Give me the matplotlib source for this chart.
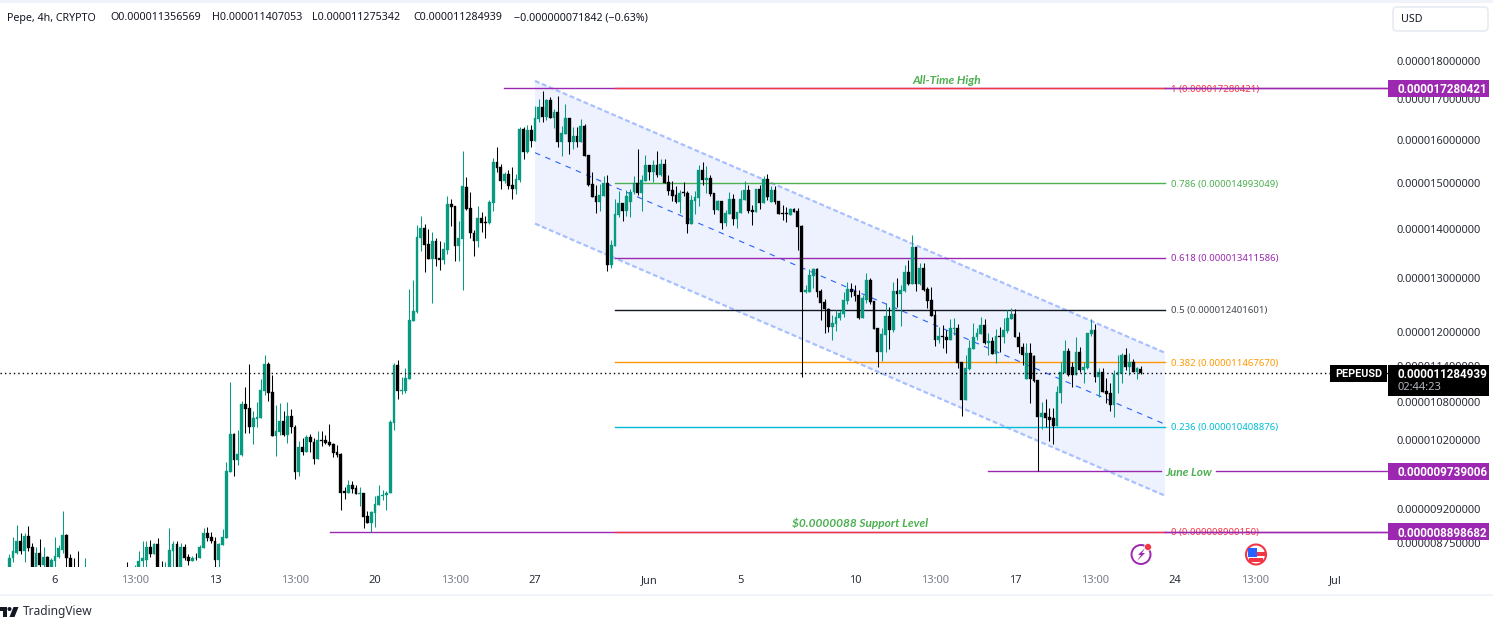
import numpy as np
from matplotlib import pyplot as plt
from matplotlib.patches import Rectangle, Polygon, Circle, FancyBboxPatch

nan = float('nan')

# 4h candles, price in units of 1e-6. nan = bar sits under the bottom of the pane
opens = [8.40,8.55,8.62,8.77,8.64,8.84,8.69,8.38,8.62,8.47,
    8.57,8.40,8.52,8.57,8.66,8.86,8.55,8.38,8.34,nan,
    8.20,nan,nan,nan,nan,nan,nan,nan,nan,nan,
    nan,8.33,nan,8.30,8.38,8.51,8.53,8.69,8.61,8.74,
    8.34,8.30,8.36,8.64,8.73,8.38,8.69,8.57,8.51,8.56,
    8.56,8.68,8.88,8.83,8.77,8.53,8.72,8.82,9.73,10.30,
    9.90,9.98,10.77,10.71,10.40,10.53,10.55,10.98,11.44,10.97,
    10.27,10.33,10.50,10.29,10.58,10.41,9.73,10.10,10.03,10.25,
    10.17,9.92,10.21,10.21,10.17,10.14,10.03,10.00,9.45,9.43,
    9.54,9.50,9.42,9.43,9.11,9.01,9.15,9.26,9.38,9.40,
    9.43,10.47,11.42,10.98,10.98,11.18,12.20,12.36,13.81,14.02,
    13.69,13.39,13.75,13.41,13.37,13.57,14.54,14.49,13.65,13.79,
    14.90,14.44,13.92,13.75,14.23,14.15,14.13,14.56,15.48,15.36,
    15.04,15.20,14.95,14.86,15.06,16.26,15.71,16.23,15.97,16.50,
    16.80,16.55,16.98,16.52,16.67,15.94,16.14,16.52,15.94,16.09,
    15.94,16.33,15.64,14.97,14.71,14.58,14.71,15.00,13.27,13.65,
    14.30,14.56,14.38,14.58,14.80,15.00,14.77,15.04,15.41,15.25,
    15.41,15.18,15.43,15.02,14.84,14.73,14.58,14.80,14.77,14.11,
    14.60,14.66,15.29,15.06,15.11,14.77,14.40,14.60,14.13,14.32,
    14.64,14.21,14.34,14.62,14.84,14.40,14.36,14.86,14.56,15.09,
    14.58,14.84,14.60,14.34,14.34,14.30,14.42,14.38,14.07,12.74,
    12.74,13.05,13.19,12.76,12.55,12.42,12.09,12.14,12.25,12.33,
    12.57,12.80,12.76,12.68,12.25,12.59,12.97,12.57,12.07,11.64,
    11.95,12.29,12.03,12.76,12.70,12.76,13.13,12.89,13.63,12.89,
    13.21,12.80,12.59,12.31,11.86,11.93,11.91,11.86,12.05,12.07,
    11.47,10.84,11.35,11.70,11.90,11.96,12.13,11.80,11.84,11.61,
    11.93,11.90,12.02,12.23,12.33,11.90,11.73,11.18,11.63,11.57,
    11.16,10.57,10.63,10.57,10.55,10.43,10.95,11.29,11.66,11.39,
    11.25,11.64,11.34,11.37,11.96,12.03,11.22,11.30,10.98,10.95,
    10.75,11.25,11.29,11.59,11.39,11.47,11.30,11.357]

highs = [8.60,8.83,8.99,8.88,8.88,8.97,8.75,8.69,8.80,8.70,
    8.58,8.55,8.83,8.72,9.18,8.87,8.60,8.56,8.65,nan,
    8.55,nan,nan,nan,nan,nan,nan,nan,nan,nan,
    nan,8.50,nan,8.46,8.64,8.77,8.78,8.79,8.75,8.82,
    8.51,8.50,8.95,8.78,8.78,8.75,8.74,8.60,8.58,8.62,
    8.72,8.95,8.96,8.89,8.83,8.75,8.94,9.88,11.13,10.32,
    10.36,10.82,11.05,11.44,10.66,10.80,11.18,11.59,11.47,11.25,
    10.75,10.79,10.66,10.80,10.69,10.44,10.19,10.24,10.29,10.30,
    10.24,10.35,10.35,10.29,10.46,10.16,10.13,10.01,9.51,9.61,
    9.60,9.54,9.51,9.43,9.18,9.18,9.39,9.54,9.47,9.45,
    10.52,11.45,11.50,11.22,11.37,12.80,12.97,14.09,14.27,14.11,
    14.00,13.94,13.81,13.75,13.73,14.71,14.64,14.49,14.17,15.73,
    15.13,14.80,13.98,14.49,14.36,14.27,14.62,15.57,15.83,15.43,
    15.25,15.29,15.36,15.20,16.31,16.31,16.35,16.35,16.82,17.00,
    17.21,17.00,17.05,16.75,17.08,16.33,16.87,16.52,16.31,16.31,
    16.50,16.38,15.64,15.25,14.95,14.97,15.15,15.18,13.77,14.64,
    14.82,14.56,14.84,14.86,15.15,15.78,15.18,15.64,15.41,15.52,
    15.73,15.55,15.55,15.18,15.04,14.93,14.84,15.02,14.82,14.73,
    14.82,15.41,15.48,15.38,15.18,14.77,14.62,14.60,14.40,14.80,
    14.75,14.36,14.84,15.04,14.95,14.51,14.86,14.95,15.15,15.20,
    14.93,14.93,14.60,14.51,14.47,14.44,14.44,14.44,14.09,12.87,
    13.19,13.21,13.21,12.80,12.61,12.44,12.31,12.40,12.40,12.74,
    12.93,12.91,12.87,12.78,12.68,13.11,13.01,12.57,12.07,12.07,
    12.53,12.45,12.93,13.01,12.87,13.27,13.37,13.87,13.63,13.31,
    13.31,12.84,12.84,12.40,12.09,12.13,12.03,12.23,12.25,12.14,
    11.47,11.59,11.86,12.16,12.07,12.27,12.23,11.98,11.91,12.05,
    12.09,12.25,12.40,12.44,12.42,12.00,11.80,11.80,11.80,11.59,
    11.16,10.80,10.85,10.71,10.71,11.07,11.47,11.86,11.72,11.47,
    11.90,11.73,11.47,11.98,12.23,12.14,11.37,11.37,11.20,11.12,
    11.34,11.59,11.63,11.72,11.63,11.52,11.39,11.407]

lows = [8.38,8.50,8.61,8.60,8.50,8.64,8.38,8.36,8.40,8.40,
    8.36,8.38,8.44,8.56,8.62,8.40,8.34,8.25,8.20,nan,
    8.15,nan,nan,nan,nan,nan,nan,nan,nan,nan,
    nan,8.28,nan,8.28,8.34,8.43,8.40,8.57,8.60,8.34,
    8.28,8.28,8.34,8.43,8.34,8.34,8.53,8.46,8.51,8.53,
    8.55,8.68,8.77,8.75,8.44,8.44,8.72,8.82,9.73,9.67,
    9.83,9.96,10.32,10.32,10.14,10.40,10.55,10.92,10.82,10.27,
    9.96,10.29,10.27,10.16,10.32,9.63,9.67,9.98,10.03,10.03,
    9.85,9.92,10.11,10.14,10.11,9.95,9.95,9.19,9.35,9.43,
    9.43,9.42,9.24,8.95,9.01,8.90,8.96,9.26,9.33,9.19,
    9.43,10.36,10.85,10.93,10.95,11.18,12.20,12.34,13.55,13.13,
    13.39,12.53,13.25,13.17,13.29,13.49,14.07,13.35,13.35,12.78,
    14.40,13.81,13.45,13.63,13.94,13.81,14.11,14.38,15.25,14.86,
    15.00,14.86,14.64,14.75,15.02,15.55,15.68,15.83,15.97,16.43,
    16.43,16.47,16.52,16.28,15.83,15.62,16.14,15.66,15.78,15.83,
    15.94,15.62,14.93,14.68,14.34,14.38,14.71,13.15,13.21,13.65,
    14.25,14.17,14.27,14.25,14.75,14.73,14.38,15.04,15.06,15.02,
    15.13,15.15,15.00,14.73,14.60,14.56,14.34,14.71,13.92,14.11,
    14.32,14.49,14.95,14.77,14.71,14.32,14.40,14.00,14.07,14.32,
    14.09,14.02,14.34,14.62,14.34,14.09,14.36,14.42,14.56,14.62,
    14.58,14.54,14.32,14.19,14.15,14.30,14.36,13.57,11.22,12.72,
    12.74,12.82,12.64,12.22,11.98,12.00,11.86,12.02,12.22,12.27,
    12.51,12.64,12.57,12.23,12.25,12.53,12.51,12.05,11.39,11.49,
    11.64,11.70,12.00,12.45,12.11,12.74,12.87,12.89,12.76,12.87,
    12.76,12.44,12.29,11.75,11.80,11.71,11.63,11.86,11.95,11.37,
    10.58,10.84,11.34,11.70,11.86,11.96,11.79,11.59,11.61,11.46,
    11.64,11.80,11.98,12.23,11.90,11.63,11.42,11.18,10.79,11.13,
    9.74,10.38,10.40,10.19,10.14,10.43,10.79,11.29,11.23,11.05,
    11.25,11.30,11.11,11.35,11.93,11.13,10.88,10.97,10.79,10.66,
    10.57,10.95,11.12,11.34,11.25,11.30,11.18,11.275]

closes = [8.56,8.64,8.77,8.64,8.84,8.68,8.40,8.62,8.47,8.57,
    8.40,8.53,8.58,8.68,8.86,8.55,8.38,8.30,8.26,nan,
    8.30,nan,nan,nan,nan,nan,nan,nan,nan,nan,
    nan,8.30,nan,8.34,8.52,8.55,8.69,8.61,8.74,8.38,
    8.30,8.35,8.66,8.73,8.38,8.69,8.56,8.51,8.56,8.55,
    8.69,8.88,8.82,8.77,8.53,8.73,8.83,9.74,10.30,9.90,
    10.00,10.77,10.69,10.40,10.55,10.57,11.00,11.44,10.95,10.27,
    10.35,10.50,10.29,10.58,10.41,9.73,10.10,10.03,10.25,10.17,
    9.92,10.21,10.19,10.16,10.13,10.01,9.98,9.43,9.43,9.54,
    9.48,9.42,9.43,9.10,9.01,9.17,9.28,9.39,9.40,9.43,
    10.49,11.42,10.98,11.00,11.20,12.22,12.38,13.83,14.02,13.67,
    13.39,13.75,13.39,13.37,13.59,14.54,14.47,13.65,13.81,14.93,
    14.42,13.92,13.75,14.23,14.13,14.13,14.58,15.48,15.34,15.04,
    15.20,14.93,14.86,15.09,16.26,15.71,16.23,15.97,16.52,16.80,
    16.55,16.98,16.52,16.67,15.94,16.16,16.52,15.94,16.09,15.94,
    16.33,15.62,14.95,14.68,14.58,14.73,15.00,13.27,13.67,14.32,
    14.56,14.38,14.71,14.80,15.00,14.77,15.06,15.41,15.25,15.41,
    15.18,15.43,15.00,14.82,14.71,14.58,14.77,14.77,14.11,14.62,
    14.68,15.29,15.06,15.11,14.75,14.40,14.60,14.13,14.34,14.64,
    14.21,14.36,14.64,14.84,14.38,14.36,14.86,14.56,15.09,14.68,
    14.84,14.58,14.32,14.32,14.32,14.42,14.36,14.04,12.74,12.78,
    13.07,13.19,12.74,12.53,12.42,12.09,12.16,12.27,12.34,12.59,
    12.80,12.74,12.66,12.25,12.63,12.97,12.55,12.05,11.64,11.96,
    12.29,12.03,12.76,12.70,12.78,13.13,12.89,13.63,12.89,13.21,
    12.78,12.57,12.29,11.86,11.93,11.91,11.86,12.07,12.07,11.46,
    10.84,11.37,11.72,11.91,11.98,12.13,11.80,11.84,11.61,11.93,
    11.90,12.03,12.25,12.33,11.90,11.73,11.59,11.63,11.18,11.15,
    10.57,10.63,10.55,10.52,10.43,10.97,11.30,11.66,11.25,11.25,
    11.64,11.34,11.39,11.98,12.03,11.22,11.30,10.97,10.93,10.75,
    11.27,11.30,11.59,11.39,11.47,11.30,11.36,11.285]

# x axis: days after 6 May, first bar two days before that
first_bar_day = -2
date_pos = [0, 3.5, 7, 10.5, 14, 17.5, 21, 26, 30, 35, 38.5, 42, 45.5, 49, 52.5, 56]
date_labels = ['6', '13:00', '13', '13:00', '20', '13:00', '27', 'Jun', '5', '10',
    '13:00', '17', '13:00', '24', '13:00', 'Jul']

price_ticks = [18.0, 17.0, 16.0, 15.0, 14.0, 13.0, 12.0, 11.4, 10.8, 10.2, 9.2, 8.75]

# fibonacci levels
fib_ratio = ['1', '0.786', '0.618', '0.5', '0.382', '0.236', '0']
fib_price = [17.280421, 14.993049, 13.411586, 12.401601, 11.467670, 10.408876, 8.900150]
fib_color = ['#f23645', '#4caf50', '#9c27b0', '#131722', '#ff9800', '#00bcd4', '#f23645']
fib_start, fib_end = 24.5, 48.56

# horizontal levels with their axis tags
ath_price, june_low, support_price = 17.280421, 9.739006, 8.898682
ath_start, june_start, support_start = 19.64, 40.83, 12.04
last_price = 11.284939

# channel, (day, price) of the left and right end of each edge
chan_days = [21.0, 48.56]
chan_upper = [17.47, 11.63]
chan_mid = [15.69, 10.45]
chan_lower = [14.11, 9.39]

W, H = 1493, 622
GREEN = '#089981'
BLACK = '#000000'
PURPLE = '#9c27b0'
LABEL_GREEN = '#4caf50'
TEXT = '#2a2e39'
FONT = ['Noto Sans', 'DejaVu Sans']

plt.rcParams['font.family'] = FONT

fig = plt.figure(figsize=(W / 100, H / 100), dpi=100)
ax = fig.add_axes([0, (H - 567) / H, 1389 / W, 566 / H])
ax.set_yscale('log')
ax.set_xlim(-2.406, 58.36)
ax.set_ylim(8.44e-6, 19.69e-6)
for s in ax.spines.values():
    s.set_visible(False)

# channel
ax.fill([chan_days[0], chan_days[1], chan_days[1], chan_days[0]],
        [chan_upper[0] * 1e-6, chan_upper[1] * 1e-6, chan_lower[1] * 1e-6, chan_lower[0] * 1e-6],
        color='#2962ff', alpha=0.08, lw=0, zorder=1)
for edge in (chan_upper, chan_lower):
    ax.plot(chan_days, np.array(edge) * 1e-6, color='#a9c0ff', lw=1.6,
            ls=(0, (2.2, 1.2)), zorder=2)
ax.plot(chan_days, np.array(chan_mid) * 1e-6, color='#2962ff', lw=0.8,
        ls=(0, (5, 5)), zorder=2)

# purple levels
ax.plot([ath_start, 58.36], [ath_price * 1e-6] * 2, color=PURPLE, lw=1.0, zorder=2)
ax.plot([support_start, 58.36], [support_price * 1e-6] * 2, color=PURPLE, lw=1.0, zorder=2)
ax.plot([june_start, 48.4], [june_low * 1e-6] * 2, color=PURPLE, lw=1.0, zorder=2)
ax.plot([50.8, 58.36], [june_low * 1e-6] * 2, color=PURPLE, lw=1.0, zorder=2)

# fib lines
for ratio, price, col in zip(fib_ratio, fib_price, fib_color):
    ax.plot([fib_start, fib_end], [price * 1e-6] * 2, color=col, lw=1.0, zorder=3)
    ax.text(fib_end + 0.26, price * 1e-6, '%s (0.%012d)' % (ratio, round(price * 1e6)),
            color=col if ratio != '0.5' else '#434651', fontsize=6.9, va='center_baseline',
            ha='left', zorder=3)

# the purple tag lines run over the red labels
ax.plot([48.56, 58.36], [ath_price * 1e-6] * 2, color=PURPLE, lw=1.0, zorder=4)
ax.plot([48.56, 58.36], [support_price * 1e-6] * 2, color=PURPLE, lw=1.0, zorder=4)

# candles
o = np.array(opens) * 1e-6
h = np.array(highs) * 1e-6
l = np.array(lows) * 1e-6
c = np.array(closes) * 1e-6
xs = first_bar_day + np.arange(len(o)) / 6
colors = [GREEN if c[i] >= o[i] else BLACK for i in range(len(o))]
ok = ~np.isnan(o)
ax.vlines(xs[ok], l[ok], h[ok], colors=np.array(colors)[ok], lw=0.75, zorder=5)
ax.bar(xs[ok], np.abs(c - o)[ok], bottom=np.minimum(o, c)[ok], width=2.8 / 22.86,
       color=np.array(colors)[ok], edgecolor=np.array(colors)[ok], lw=0.25, zorder=6)

# last price
ax.axhline(last_price * 1e-6, color=BLACK, lw=1.0, ls=(0, (1, 2.2)), zorder=7)

ann = dict(color=LABEL_GREEN, fontsize=8.6, style='italic', fontweight='bold', family='Lato',
           ha='center', va='center_baseline', zorder=8)
ax.text(39.0, 17.5e-6, 'All-Time High', **ann)
ax.text(35.2, 9.03e-6, r'\$0.0000088 Support Level', **ann)
ax.text(49.6, june_low * 1e-6, 'June Low', **ann)

# axes
ax.set_yticks([p * 1e-6 for p in price_ticks])
ax.set_yticks([], minor=True)
ax.set_yticklabels(['0.%012d' % round(p * 1e6) for p in price_ticks], color=TEXT, fontsize=8)
ax.yaxis.tick_right()
ax.tick_params(axis='y', length=0, pad=5.5)
ax.set_xticks(date_pos)
ax.set_xticklabels(date_labels, fontsize=8)
ax.tick_params(axis='x', length=0, pad=5.5)
for lab, txt in zip(ax.get_xticklabels(), date_labels):
    lab.set_color('#787b86' if txt == '13:00' else TEXT)

# everything outside the plot, in screen pixels
ov = fig.add_axes([0, 0, 1, 1])
ov.set_xlim(0, W)
ov.set_ylim(H, 0)
ov.axis('off')
ov.patch.set_alpha(0)


def y_px(price):
    return H - ax.transData.transform((0, price * 1e-6))[1]


ov.add_patch(Rectangle((0, 0), W, 2.5, color='#f0f3fa', lw=0))
ov.add_patch(Rectangle((0, 594), W, 2, color='#f0f3fa', lw=0))

# header
head_x = [7, 110, 212, 312, 413, 514]
head_txt = ['Pepe, 4h, CRYPTO', 'O0.000011356569', 'H0.000011407053', 'L0.000011275342',
    'C0.000011284939', '\u22120.000000071842 (\u22120.63%)']
for x, t in zip(head_x, head_txt):
    ov.text(x, 18, t, fontsize=7.7, color='#131722', va='center', ha='left')

ov.add_patch(FancyBboxPatch((1393, 7), 95, 24, boxstyle='round,pad=0,rounding_size=4',
                            fc='white', ec='#e8ebf3', lw=1.2))
ov.text(1401, 19.5, 'USD', fontsize=7.7, color='#131722', va='center', ha='left')

# price tags
tag = dict(color='white', fontsize=8.4, fontweight='bold', family='Roboto', va='center_baseline', ha='left')
for p in (ath_price, june_low, support_price):
    y = y_px(p)
    ov.add_patch(Rectangle((1388, y - 8.5), 101, 17, color=PURPLE, lw=0))
    ov.text(1397, y, '0.%012d' % round(p * 1e6), **tag)
y = y_px(last_price)
ov.add_patch(Rectangle((1388, y - 7.5), 101, 31, color=BLACK, lw=0))
ov.text(1397, y, '0.%012d' % round(last_price * 1e6), **tag)
ov.text(1397, y + 14.5, '02:44:23', color='#b2b5be', fontsize=8, va='center', ha='left')
ov.add_patch(Rectangle((1330, y - 7.5), 57, 17, color=BLACK, lw=0))
ov.text(1358.5, y + 1, 'PEPEUSD', color='white', fontsize=7.8, family='Roboto', fontweight='bold',
        va='center', ha='center')

# event icons
ov.add_patch(Circle((1141, 554.5), 9.5, fc='white', ec=PURPLE, lw=1.4))
ov.add_patch(Polygon([(1145, 548), (1138, 555), (1141, 555), (1137, 561), (1145, 553), (1142, 553)],
                     closed=True, color=PURPLE, lw=0))
ov.add_patch(Circle((1148, 547), 3.5, fc='#f23645', ec='white', lw=0.5))
ov.add_patch(Circle((1256, 554.5), 10, fc='white', ec='#f23645', lw=1.5))
ov.add_patch(Rectangle((1248, 548), 9, 9, color='#2962ff', lw=0))
ov.add_patch(Rectangle((1257, 552), 8, 3.5, color='#f23645', lw=0))
ov.add_patch(Rectangle((1249, 558), 14, 3.5, color='#f23645', lw=0))

# logo
ov.add_patch(Polygon([(0, 607), (6.5, 607), (6.5, 617), (2.5, 617), (2.5, 611), (0, 611)],
                     closed=True, color='#131722', lw=0))
ov.add_patch(Circle((9.5, 609), 2, color='#131722', lw=0))
ov.add_patch(Polygon([(13.5, 607), (18.5, 607), (14.5, 617), (9.5, 617)], closed=True,
                     color='#131722', lw=0))
ov.text(23, 612, 'TradingView', fontsize=8.6, color='#2a2e39', va='center', ha='left')

fig.savefig('out.png', dpi=100)
